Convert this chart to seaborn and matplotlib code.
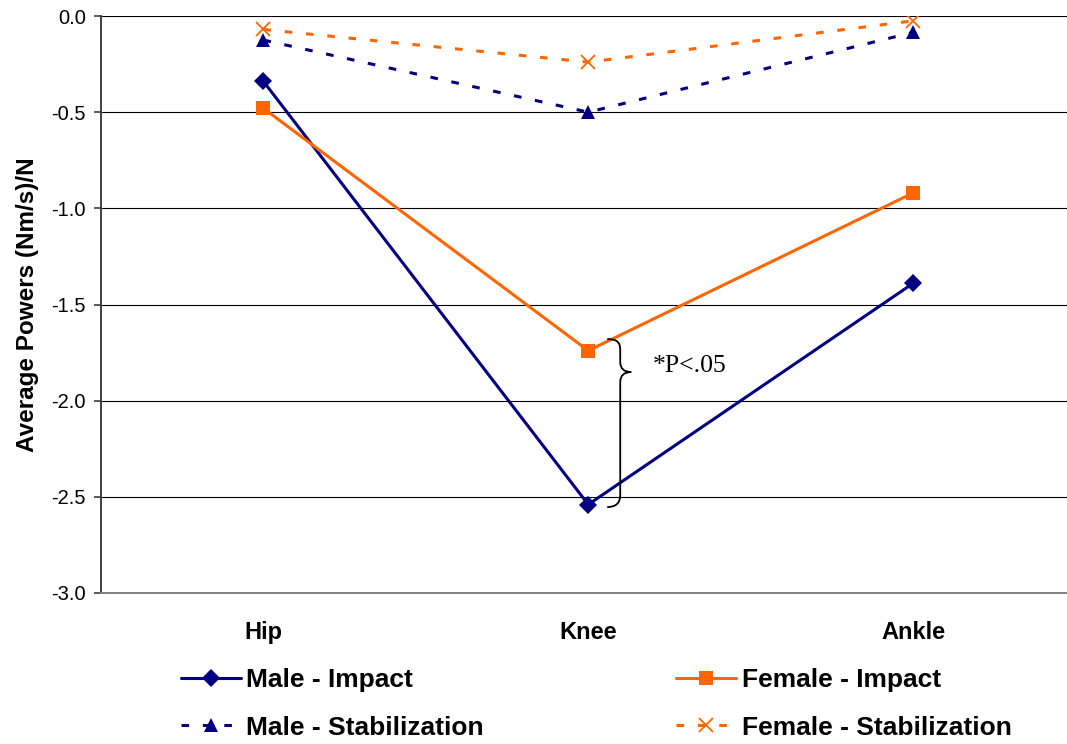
import numpy as np
import pandas as pd
import matplotlib
matplotlib.use("Agg")
import matplotlib.pyplot as plt
from matplotlib.path import Path
from matplotlib.patches import PathPatch
import seaborn as sns

joints = ["Hip", "Knee", "Ankle"]
male_impact = [-0.34, -2.54, -1.39]
female_impact = [-0.48, -1.74, -0.92]
male_stab = [-0.125, -0.50, -0.085]
female_stab = [-0.07, -0.24, -0.025]
yticks = [0.0, -0.5, -1.0, -1.5, -2.0, -2.5, -3.0]

series = [
    ("Male - Impact", male_impact, "#000080", "D", (None, None)),
    ("Male - Stabilization", male_stab, "#000080", "^", (2.5, 4.5)),
    ("Female - Impact", female_impact, "#FF6600", "s", (None, None)),
    ("Female - Stabilization", female_stab, "#FF6600", "x", (2.5, 4.5)),
]

sns.set_theme(style="white")
plt.rcParams["font.family"] = ["Liberation Sans", "DejaVu Sans"]
plt.rcParams["text.color"] = "black"
plt.rcParams["axes.labelcolor"] = "black"
plt.rcParams["xtick.color"] = "black"
plt.rcParams["ytick.color"] = "black"

fig = plt.figure(figsize=(10.67, 7.44), dpi=100)
ax = fig.add_axes([101/1067, 1-593/744, 1-101/1067, (593-16)/744])

handles = []
for name, vals, col, mk, dash in series:
    df = pd.DataFrame({"joint": joints, "value": vals})
    sns.lineplot(data=df, x="joint", y="value", ax=ax, color=col, sort=False,
                 linewidth=2.2, marker=mk, markersize=9.5,
                 markeredgewidth=1.3 if mk == "x" else 0, markeredgecolor=col,
                 label=name, zorder=3)
    ln = ax.lines[-1]
    if dash[0] is not None:
        ln.set_dashes(dash)
    handles.append(ln)

ax.set_ylim(-3.0, 0.0)
ax.set_xlim(-0.5, (1067-263)/325)
ax.set_yticks(yticks)
ax.set_yticklabels([f"{v:.1f}" for v in yticks], fontsize=14.5)
ax.yaxis.grid(True, color="black", linewidth=0.8)
ax.set_axisbelow(True)
ax.tick_params(axis="y", left=True, length=5, width=1.2, color="#404040",
               labelcolor="black", pad=6)
ax.tick_params(axis="x", length=0, pad=20, labelcolor="black")
for lab in ax.get_xticklabels():
    lab.set_fontsize(17)
    lab.set_fontweight("bold")
ax.set_xlabel("")
ax.set_ylabel("Average Powers (Nm/s)/N", fontsize=17.5, fontweight="bold",
              labelpad=9, color="black")
for s in ["top", "right"]:
    ax.spines[s].set_visible(False)
ax.spines["left"].set_color("#404040")
ax.spines["left"].set_linewidth(1.4)
ax.spines["bottom"].set_color("#808080")
ax.spines["bottom"].set_linewidth(1.4)
if ax.get_legend():
    ax.get_legend().remove()

# brace annotation
def px(xp, yp):
    return ((xp - 263) / 325, -(yp - 16) / 192.3)

pts = [
    (607, 339), (620, 339), (620, 345), (620, 352),
    (620, 362),
    (620, 372), (631, 372),
    (620, 372), (620, 382),
    (620, 495),
    (620, 507), (607, 507),
]
codes = [Path.MOVETO, Path.CURVE4, Path.CURVE4, Path.CURVE4,
         Path.LINETO,
         Path.CURVE3, Path.CURVE3,
         Path.CURVE3, Path.CURVE3,
         Path.LINETO,
         Path.CURVE3, Path.CURVE3]
verts = [px(*p) for p in pts]
ax.add_patch(PathPatch(Path(verts, codes), facecolor="none", edgecolor="black",
                       linewidth=1.3, zorder=4))
tx, ty = px(653, 366)
ax.text(tx, ty, "*P<.05", fontsize=18.5, family=["Liberation Serif", "DejaVu Serif"],
        va="center", ha="left", color="black")

leg = fig.legend(handles=handles, labels=[s[0] for s in series], ncol=2,
                 loc="center left", bbox_to_anchor=(181/1067, 1-704/744),
                 frameon=False, borderpad=0, borderaxespad=0,
                 handlelength=2.27, handletextpad=0.2, columnspacing=7.3,
                 labelspacing=0.88, prop={"size": 19, "weight": "bold"})
for t in leg.get_texts():
    t.set_color("black")

fig.savefig("out.png", dpi=100)
